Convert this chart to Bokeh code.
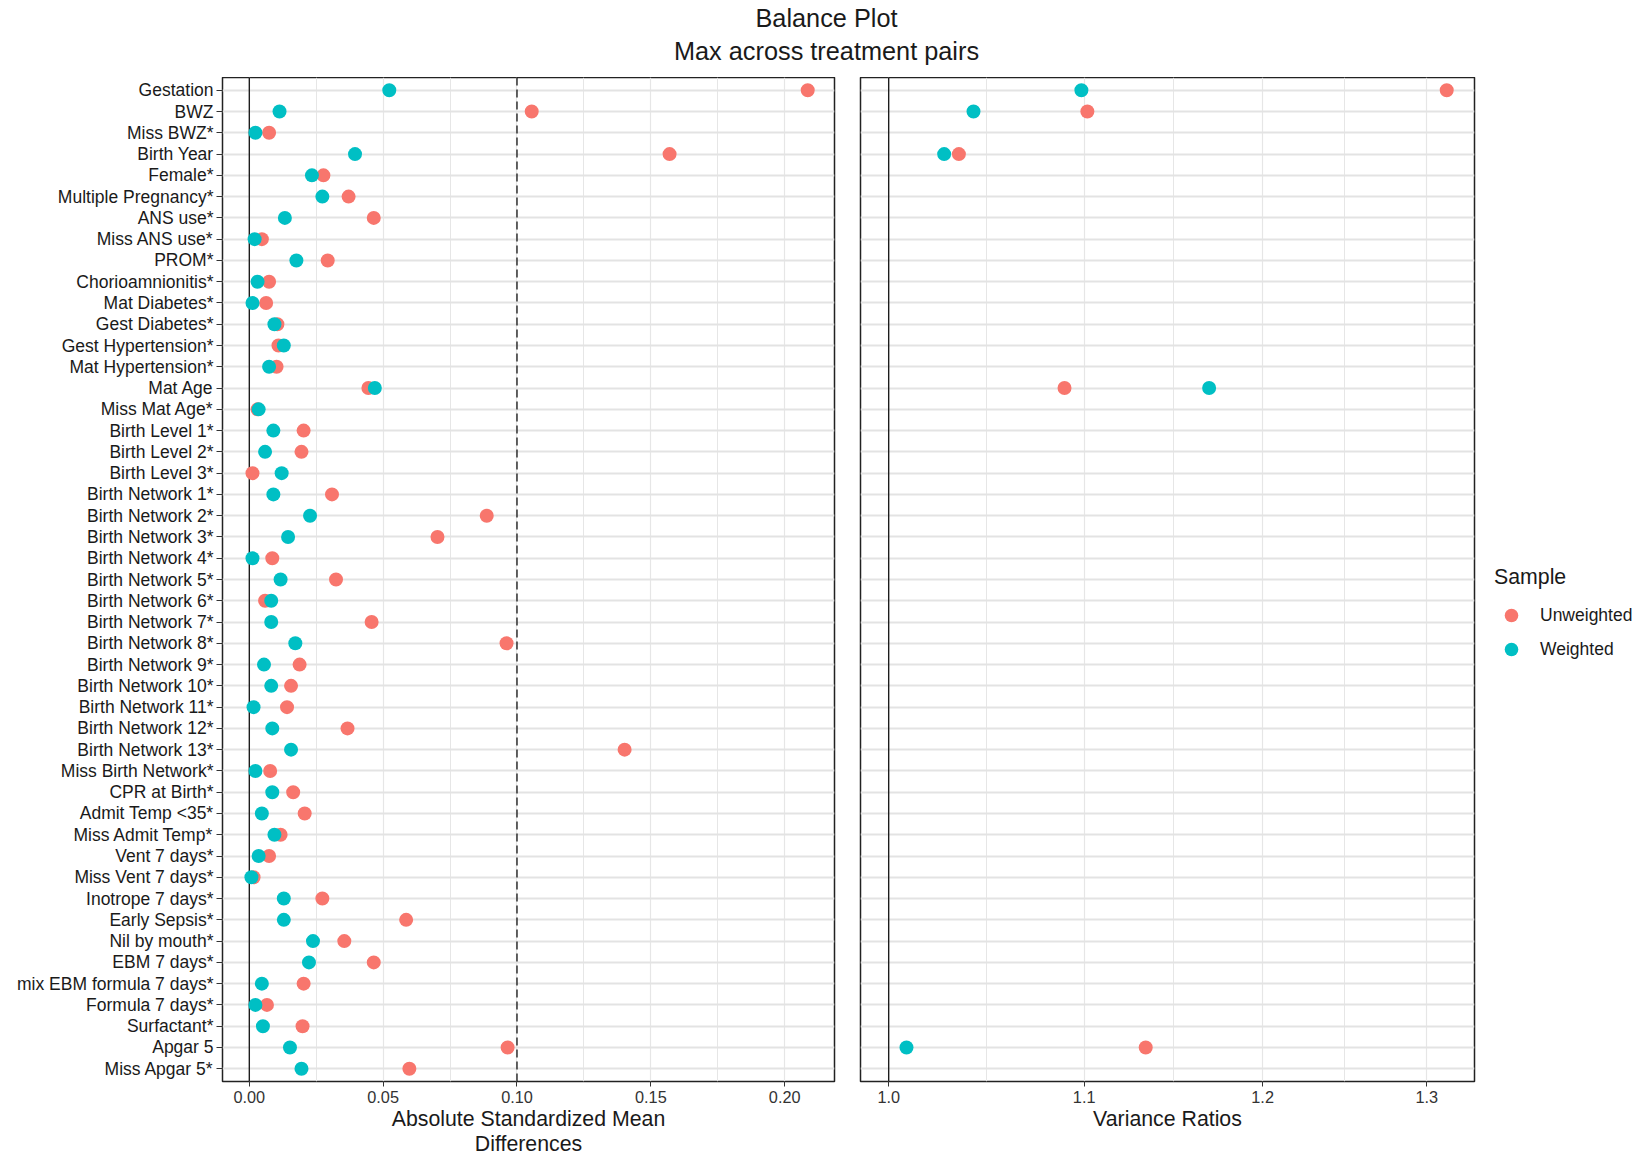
from bokeh.plotting import figure
from bokeh.models import (ColumnDataSource, FactorRange, Range1d, FixedTicker,
                          PrintfTickFormatter, Span, Legend, LegendItem, Title)
from bokeh.layouts import column, row
from bokeh.embed import file_html
from bokeh.resources import INLINE
from bokeh.core.validation import silence
from bokeh.core.validation.warnings import MISSING_RENDERERS

silence(MISSING_RENDERERS, True)

# ---------------- data ----------------
covariates = [
    "Gestation", "BWZ", "Miss BWZ*", "Birth Year", "Female*", "Multiple Pregnancy*",
    "ANS use*", "Miss ANS use*", "PROM*", "Chorioamnionitis*", "Mat Diabetes*",
    "Gest Diabetes*", "Gest Hypertension*", "Mat Hypertension*", "Mat Age",
    "Miss Mat Age*", "Birth Level 1*", "Birth Level 2*", "Birth Level 3*",
    "Birth Network 1*", "Birth Network 2*", "Birth Network 3*", "Birth Network 4*",
    "Birth Network 5*", "Birth Network 6*", "Birth Network 7*", "Birth Network 8*",
    "Birth Network 9*", "Birth Network 10*", "Birth Network 11*", "Birth Network 12*",
    "Birth Network 13*", "Miss Birth Network*", "CPR at Birth*", "Admit Temp <35*",
    "Miss Admit Temp*", "Vent 7 days*", "Miss Vent 7 days*", "Inotrope 7 days*",
    "Early Sepsis*", "Nil by mouth*", "EBM 7 days*", "mix EBM formula 7 days*",
    "Formula 7 days*", "Surfactant*", "Apgar 5", "Miss Apgar 5*",
]
smd_unweighted = [
    0.2086, 0.1055, 0.0074, 0.1570, 0.0277, 0.0371,
    0.0465, 0.0047, 0.0293, 0.0074, 0.0063,
    0.0105, 0.0109, 0.0102, 0.0445,
    0.0031, 0.0203, 0.0195, 0.0012,
    0.0309, 0.0887, 0.0703, 0.0086,
    0.0324, 0.0059, 0.0457, 0.0961,
    0.0188, 0.0156, 0.0141, 0.0367,
    0.1402, 0.0078, 0.0164, 0.0207,
    0.0117, 0.0074, 0.0016, 0.0273,
    0.0586, 0.0355, 0.0465, 0.0203,
    0.0066, 0.0199, 0.0965, 0.0598,
]
smd_weighted = [
    0.0523, 0.0113, 0.0023, 0.0395, 0.0234, 0.0273,
    0.0133, 0.0020, 0.0176, 0.0031, 0.0012,
    0.0094, 0.0129, 0.0074, 0.0469,
    0.0035, 0.0090, 0.0059, 0.0121,
    0.0090, 0.0227, 0.0145, 0.0012,
    0.0117, 0.0082, 0.0082, 0.0172,
    0.0055, 0.0082, 0.0016, 0.0086,
    0.0156, 0.0023, 0.0086, 0.0047,
    0.0094, 0.0035, 0.0008, 0.0129,
    0.0129, 0.0238, 0.0223, 0.0047,
    0.0023, 0.0051, 0.0152, 0.0195,
]
vr_covariates = ["Gestation", "BWZ", "Birth Year", "Mat Age", "Apgar 5"]
vr_unweighted = [1.3127, 1.1017, 1.0348, 1.0895, 1.1335]
vr_weighted = [1.0985, 1.0422, 1.0274, 1.1691, 1.0087]

smd_ticks = [0.0, 0.05, 0.10, 0.15, 0.20]
smd_minor_ticks = [0.025, 0.075, 0.125, 0.175]
vr_ticks = [1.0, 1.1, 1.2, 1.3]
vr_minor_ticks = [1.0488, 1.1489, 1.2490]
smd_threshold = 0.1
smd_zero = 0.0
vr_one = 1.0

# ---------------- style ----------------
FONT = "Liberation Sans"
C_UNW = "#F8766D"
C_W = "#00BFC4"
TXT = "#1A1A1A"
GRID = "#E6E6E6"
DOT = 14

smd_src = ColumnDataSource(dict(cov=covariates, unw=smd_unweighted, w=smd_weighted))
vr_src = ColumnDataSource(dict(cov=vr_covariates, unw=vr_unweighted, w=vr_weighted))

y_range = FactorRange(factors=list(reversed(covariates)),
                      range_padding=0.2 / len(covariates))


def style_common(p):
    p.outline_line_color = "#222222"
    p.outline_line_width = 1.5
    p.background_fill_color = "white"
    p.border_fill_color = "white"
    p.ygrid.grid_line_color = "#E3E3E3"
    p.ygrid.grid_line_width = 1.8
    p.xgrid.grid_line_color = GRID
    p.xgrid.grid_line_width = 1.2
    p.xgrid.minor_grid_line_color = GRID
    p.xgrid.minor_grid_line_width = 1.0
    ax = p.xaxis[0]
    ax.axis_line_color = None
    ax.major_tick_out = 5
    ax.major_tick_in = 0
    ax.major_tick_line_color = "#333333"
    ax.minor_tick_line_color = None
    ax.major_label_standoff = 4
    ax.major_label_text_font = FONT
    ax.major_label_text_font_size = "16.3px"
    ax.major_label_text_color = "#333333"
    ax.axis_label_text_font = FONT
    ax.axis_label_text_font_size = "21.3px"
    ax.axis_label_text_font_style = "normal"
    ax.axis_label_text_color = TXT
    ax.axis_label_standoff = 1
    ax.axis_label_text_line_height = 1.05


# ---------------- left panel: SMD ----------------
L = figure(x_range=Range1d(-0.0100, 0.2186), y_range=y_range,
           frame_width=612, frame_height=1004,
           min_border_left=222, min_border_right=13, min_border_top=0, min_border_bottom=0,
           toolbar_location=None, output_backend="svg")
style_common(L)
L.xaxis.ticker = FixedTicker(ticks=smd_ticks, minor_ticks=smd_minor_ticks)
L.xgrid.ticker = FixedTicker(ticks=smd_ticks, minor_ticks=smd_minor_ticks)
L.xaxis.formatter = PrintfTickFormatter(format="%.2f")
L.xaxis.axis_label = "Absolute Standardized Mean\nDifferences"
ya = L.yaxis[0]
ya.axis_line_color = None
ya.major_tick_out = 6
ya.major_tick_in = 0
ya.major_tick_line_color = "#333333"
ya.major_label_standoff = 3
ya.major_label_text_font = FONT
ya.major_label_text_font_size = "17.5px"
ya.major_label_text_color = TXT

L.add_layout(Span(location=smd_zero, dimension="height", line_color="black",
                  line_width=1.2, level="underlay"))
L.add_layout(Span(location=smd_threshold, dimension="height", line_color="black",
                  line_width=1.2, line_dash="8 4", level="underlay"))
L.scatter(x="unw", y="cov", source=smd_src, size=DOT, fill_color=C_UNW, line_color=None)
L.scatter(x="w", y="cov", source=smd_src, size=DOT, fill_color=C_W, line_color=None)

# ---------------- right panel: variance ratios ----------------
R = figure(x_range=Range1d(0.98633, 1.3306), x_axis_type="log", y_range=y_range,
           frame_width=614, frame_height=1004,
           min_border_left=13, min_border_right=165, min_border_top=0, min_border_bottom=0,
           toolbar_location=None, output_backend="svg")
style_common(R)
R.xaxis.ticker = FixedTicker(ticks=vr_ticks, minor_ticks=vr_minor_ticks)
R.xgrid.ticker = FixedTicker(ticks=vr_ticks, minor_ticks=vr_minor_ticks)
R.xaxis.formatter = PrintfTickFormatter(format="%.1f")
R.xaxis.axis_label = "Variance Ratios"
R.yaxis.visible = False
R.add_layout(Span(location=vr_one, dimension="height", line_color="black",
                  line_width=1.2, level="underlay"))
ru = R.scatter(x="unw", y="cov", source=vr_src, size=DOT, fill_color=C_UNW, line_color=None)
rw = R.scatter(x="w", y="cov", source=vr_src, size=DOT, fill_color=C_W, line_color=None)

legend = Legend(items=[LegendItem(label="Unweighted", renderers=[ru]),
                       LegendItem(label="Weighted", renderers=[rw])],
                title="Sample", location=(20, 415), orientation="vertical",
                padding=0, margin=0, spacing=0,
                glyph_width=34, glyph_height=34, label_height=34, label_standoff=12,
                border_line_color=None, background_fill_alpha=0,
                title_text_font=FONT, title_text_font_size="21.3px",
                title_text_font_style="normal", title_text_color=TXT, title_standoff=8,
                label_text_font=FONT, label_text_font_size="17.5px", label_text_color=TXT)
R.add_layout(legend, "right")

# ---------------- title ----------------
T = figure(width=1639, height=77, x_axis_type=None, y_axis_type=None,
           toolbar_location=None, output_backend="svg", outline_line_color=None,
           min_border_left=13, min_border_right=0, min_border_top=0, min_border_bottom=0)
T.add_layout(Title(text="Max across treatment pairs", align="center", text_font=FONT,
                   text_font_size="25.3px", text_font_style="normal", text_color=TXT,
                   standoff=3), "above")
T.add_layout(Title(text="Balance Plot", align="center", text_font=FONT,
                   text_font_size="25.3px", text_font_style="normal", text_color=TXT,
                   standoff=3), "above")

layout = column(T, row(L, R))
open("out.html", "w").write(file_html(layout, INLINE))
